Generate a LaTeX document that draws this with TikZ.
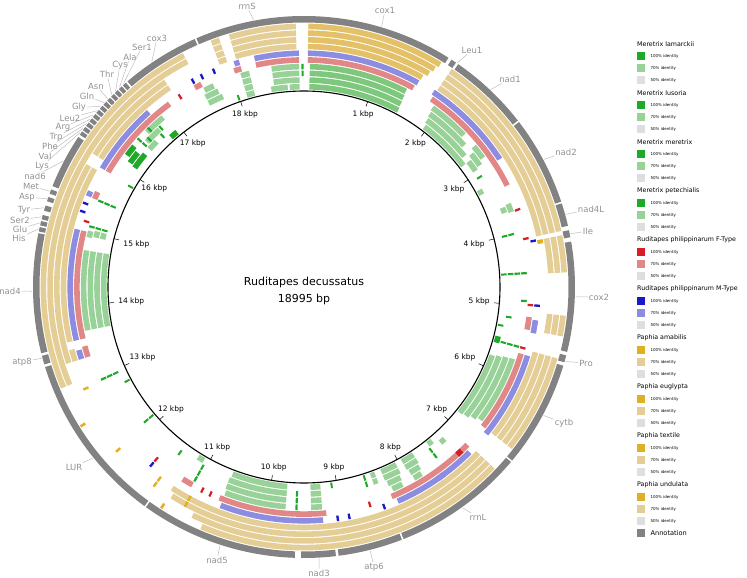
\documentclass[tikz,border=0pt]{standalone}
\usepackage{fontspec}
\setmainfont{DejaVu Sans}
\usetikzlibrary{positioning}

\definecolor{gD}{RGB}{30,170,40}
\definecolor{gM}{RGB}{125,200,125}
\definecolor{gL}{RGB}{152,210,152}
\definecolor{rD}{RGB}{215,30,35}
\definecolor{rL}{RGB}{226,135,135}
\definecolor{bD}{RGB}{25,25,200}
\definecolor{bL}{RGB}{140,140,225}
\definecolor{yD}{RGB}{225,175,35}
\definecolor{yM}{RGB}{228,192,105}
\definecolor{yL}{RGB}{228,206,150}
\definecolor{annot}{RGB}{130,130,130}
\definecolor{labgrey}{RGB}{145,145,145}
\definecolor{legfifty}{RGB}{222,222,222}

% one block of a ring: ring index, from, to (kbp), colour
\newcommand{\ringseg}[4]{%
  \pgfmathsetmacro{\rin}{197.5+6.7*(#1)}%
  \pgfmathsetmacro{\rout}{\rin+5.6}%
  \pgfmathsetmacro{\angA}{90-18.9523*(#2)}%
  \pgfmathsetmacro{\angB}{90-18.9523*(#3)}%
  \fill[#4] (\angA:\rin pt) arc[start angle=\angA, end angle=\angB, radius=\rin pt]
    -- (\angB:\rout pt) arc[start angle=\angB, end angle=\angA, radius=\rout pt] -- cycle;}
% short hit: ring index, position (kbp), colour
\newcommand{\hit}[3]{\ringseg{#1}{#2-0.015}{#2+0.015}{#3}}
% annotation block on the outer ring
\newcommand{\genebox}[2]{%
  \pgfmathsetmacro{\angA}{90-18.9523*(#1)}%
  \pgfmathsetmacro{\angB}{90-18.9523*(#2)}%
  \fill[annot] (\angA:264.5pt) arc[start angle=\angA, end angle=\angB, radius=264.5pt]
    -- (\angB:271pt) arc[start angle=\angB, end angle=\angA, radius=271pt] -- cycle;}

\begin{document}
\begin{tikzpicture}[x=1pt, y=1pt, line cap=round, line join=round,
    genelab/.style={font=\fontsize{8.5}{9}\selectfont, text=labgrey, inner sep=1pt},
    leader/.style={draw=labgrey!60, line width=0.5pt},
    kblab/.style={font=\fontsize{7.5}{8}\selectfont, inner sep=0.5pt},
    legtitle/.style={font=\fontsize{6.3}{7}\selectfont, anchor=west, inner sep=0pt},
    legtext/.style={font=\fontsize{4}{5}\selectfont, anchor=west, inner sep=0pt},
    legbox/.style={minimum size=8pt, inner sep=0pt, anchor=west}]
  \useasboundingbox (-304,-291) rectangle (443,287);

  % Meretrix (rings 0-3)
  \foreach \k/\a/\b/\c in {0/0.08/1.48/gM, 1/0.08/1.47/gM, 2/0.08/1.46/gM, 3/0.08/1.45/gM,
      0/1.95/2.78/gL, 1/1.92/2.68/gL, 2/1.90/2.56/gL, 3/1.88/2.45/gL,
      1/2.78/2.95/gL, 2/2.72/2.92/gL, 3/2.66/2.86/gL, 0/3.22/3.30/gL,
      2/3.60/3.68/gL, 3/3.58/3.70/gL, 0/5.50/5.60/gD,
      0/5.80/6.80/gL, 1/5.78/6.78/gL, 2/5.76/6.74/gL, 3/5.75/6.70/gL,
      1/7.24/7.32/gL, 0/7.40/7.48/gL,
      0/7.75/7.95/gL, 1/7.75/7.95/gL, 2/7.77/7.93/gL, 3/7.80/7.92/gL,
      0/8.05/8.30/gL, 1/8.05/8.30/gL, 2/8.08/8.28/gL, 3/8.10/8.25/gL,
      0/8.40/8.47/gL, 1/8.40/8.47/gL,
      0/9.25/9.40/gL, 1/9.25/9.40/gL, 2/9.25/9.40/gL, 3/9.25/9.40/gL,
      0/9.75/10.60/gL, 1/9.75/10.62/gL, 2/9.75/10.62/gL, 3/9.75/10.60/gL,
      0/11.08/11.18/gL,
      0/13.65/14.75/gL, 1/13.65/14.75/gL, 2/13.65/14.75/gL, 3/13.65/14.75/gL,
      1/14.95/15.04/gL, 2/14.95/15.04/gL, 3/14.93/15.02/gL,
      1/16.10/16.35/gD, 2/16.12/16.30/gD, 3/16.18/16.34/gD,
      1/16.45/16.60/gL, 2/16.50/16.75/gL, 3/16.60/16.90/gL, 0/16.80/16.92/gD,
      1/17.55/17.78/gL, 2/17.55/17.75/gL, 3/17.58/17.72/gL,
      0/18.12/18.24/gL, 1/18.12/18.24/gL, 2/18.12/18.24/gL, 3/18.12/18.24/gL,
      0/18.50/18.75/gL, 0/18.78/18.93/gL, 1/18.55/18.93/gL, 2/18.55/18.93/gL, 3/18.55/18.93/gL}
    {\ringseg{\k}{\a}{\b}{\c}}
  \foreach \k/\p in {0/4.56, 1/4.56, 2/4.56, 3/4.56, 1/4.0, 2/4.0, 1/3.06, 3/4.94, 1/5.19,
      0/5.33, 1/5.57, 2/5.57, 3/5.57, 1/7.5, 2/7.5, 0/8.57, 1/8.57, 0/9.08,
      1/9.6, 2/9.6, 3/9.6, 1/11.05, 2/11.05, 3/11.05, 1/11.44, 0/12.12, 1/12.12,
      0/12.77, 1/12.95, 2/12.95, 3/12.95, 1/15.08, 2/15.08, 3/15.08,
      1/15.45, 2/15.45, 3/15.45, 0/15.83, 2/16.45, 3/16.45, 2/16.55, 3/16.65,
      1/16.72, 2/16.78, 0/17.99, 2/18.975, 3/18.975}
    {\hit{\k}{\p}{gD}}

  % Ruditapes philippinarum F (ring 4) and M (ring 5)
  \foreach \k/\a/\b/\c in {4/0.05/1.52/rL, 5/0.05/1.54/bL,
      4/1.80/3.35/rL, 5/1.77/3.00/bL,
      4/5.15/5.32/rL, 5/5.18/5.35/bL,
      4/5.65/6.75/rL, 5/5.65/6.80/bL,
      4/7.07/8.30/rL, 5/7.12/8.25/bL, 5/7.55/7.65/bL, 4/7.18/7.26/rD,
      4/9.20/10.65/rL, 5/9.25/10.60/bL, 4/11.05/11.20/rL,
      4/13.30/13.45/rL, 5/13.30/13.42/bL,
      4/13.55/15.00/rL, 5/13.55/15.00/bL,
      4/15.45/15.55/rL, 5/15.45/15.52/bL,
      4/15.85/17.08/rL, 5/15.85/16.80/bL, 4/17.48/17.58/rL,
      4/18.05/18.15/rL, 5/18.08/18.15/bL,
      4/18.35/18.93/rL, 5/18.35/18.93/bL}
    {\ringseg{\k}{\a}{\b}{\c}}
  \foreach \k/\p/\c in {4/3.70/rD, 4/4.10/rD, 5/4.15/bD, 4/4.99/rD, 5/4.99/bD, 4/5.57/rD,
      5/8.44/bD, 4/8.61/rD, 5/8.91/bD, 5/9.06/bD, 4/10.78/rD, 4/10.9/rD,
      4/11.64/rD, 5/11.64/bD, 4/15.13/rD, 5/15.24/bD, 5/15.35/bD, 4/17.25/rD,
      5/17.5/bD, 5/17.63/bD, 5/17.8/bD}
    {\hit{\k}{\p}{\c}}

  % Paphia (rings 6-9)
  \foreach \k/\a/\b/\c in {6/0.05/1.55/yM, 7/0.05/1.60/yM, 8/0.05/1.63/yM, 9/0.05/1.66/yM,
      6/1.80/4.10/yL, 7/1.80/4.10/yL, 8/1.80/4.10/yL, 9/1.80/4.10/yL,
      6/4.15/4.20/yD, 7/4.15/4.58/yL, 8/4.15/4.58/yL, 9/4.15/4.58/yL,
      7/5.08/5.32/yL, 8/5.08/5.32/yL, 9/5.08/5.32/yL,
      6/5.58/6.75/yL, 7/5.58/6.75/yL, 8/5.58/6.75/yL, 9/5.58/6.75/yL,
      6/7.05/11.25/yL, 7/7.05/11.20/yL, 8/7.05/10.87/yL, 9/7.05/10.72/yL,
      6/13.30/13.45/yL, 6/13.55/15.80/yL, 7/13.30/15.80/yL, 8/13.05/17.55/yL, 9/13.05/17.55/yL,
      6/15.95/17.20/yL, 7/15.95/17.20/yL,
      6/17.90/18.00/yL, 7/17.90/18.00/yL, 8/17.90/18.00/yL, 9/17.90/18.00/yL,
      6/18.12/18.90/yL, 7/18.12/18.90/yL, 8/18.12/18.90/yL, 9/18.12/18.90/yL}
    {\ringseg{\k}{\a}{\b}{\c}}
  \foreach \k/\p in {6/11.0, 7/11.0, 9/11.23, 6/11.45, 7/11.45, 7/12.07, 9/12.56, 6/12.93}
    {\hit{\k}{\p}{yD}}

  % annotation ring
  \foreach \a/\b in {0.0/1.70, 1.74/1.80, 1.83/2.75, 2.77/3.78, 3.80/4.06, 4.11/4.19,
      4.24/5.48, 5.52/5.60, 5.64/6.85, 6.87/8.36, 8.38/9.11, 9.14/9.53, 9.60/11.38,
      11.40/13.34, 13.37/13.47, 13.50/14.85, 14.87/14.92, 14.94/14.99, 15.01/15.06,
      15.11/15.17, 15.22/15.27, 15.31/15.36, 15.40/16.02, 16.85/17.74, 17.76/18.995}
    {\genebox{\a}{\b}}
  \foreach \i in {0,...,12}
    {\genebox{16.05+0.061*\i}{16.095+0.061*\i}}

  % backbone and scale
  \draw[line width=1.1pt] (0,0) circle[radius=196pt];
  \foreach \k in {1,...,18} {
    \pgfmathsetmacro{\ang}{90-18.9523*\k}
    \draw[line width=0.5pt] (\ang:196pt) -- (\ang:191pt);
    \node[kblab, anchor=\ang] (kb\k) at (\ang:187pt) {\k\ kbp};
  }
  \node[align=center, font=\fontsize{11}{17}\selectfont] (title) at (0,-4)
    {Ruditapes decussatus\\18995 bp};

  % gene names
  \foreach \nm/\ang/\lx/\ly in {rrnS/100.7/-57/281, cox1/73.4/81/277, Leu1/55.6/168/237,
      nad1/46.6/206/208, nad2/28/262/135, nad4L/15.5/287/78, Ile/11.3/284/56,
      cox2/-2.1/295/-10, Pro/-15.9/282/-76, cytb/-28.2/260/-136, rrnL/-54.3/174/-230,
      atp6/-75.9/70/-280, nad3/-86.8/15/-286, nad5/-108/-87/-273, LUR/-141/-230/-180,
      atp8/195.2/-282/-75, nad4/180.9/-294/-4} {
    \coordinate (r\nm) at (\ang:272pt);
    \node[genelab] (\nm) at (\lx,\ly) {\nm};
    \draw[leader] (r\nm) -- (\nm);
  }
  \foreach \nm/\kb/\lx/\ly in {His/14.895/-285/49, Glu/14.965/-284/58, Ser2/15.035/-284/67,
      Tyr/15.14/-280/77, Asp/15.245/-277/90, Met/15.335/-273/101, nad6/15.7/-269/111,
      Lys/16.072/-262/121, Val/16.133/-259/131, Phe/16.194/-254/141, Trp/16.255/-248/150,
      Arg/16.316/-241/160, Leu2/16.377/-234/169, Gly/16.438/-225/180, Gln/16.499/-217/191,
      Asn/16.56/-208/201, Thr/16.621/-197/213, Cys/16.682/-184/222, Ala/16.743/-174/230,
      Ser1/16.804/-162/240, cox3/17.2/-147/249} {
    \coordinate (r\nm) at ({90-18.9523*\kb}:272pt);
    \node[genelab] (\nm) at (\lx,\ly) {\nm};
    \draw[leader] (r\nm) -- (\nm);
  }

  % legend
  \begin{scope}[shift={(333,243)}]
    \foreach \nm/\dk/\lt [count=\i from 0] in {Meretrix lamarckii/gD/gL, Meretrix lusoria/gD/gL,
        Meretrix meretrix/gD/gL, Meretrix petechialis/gD/gL,
        Ruditapes philippinarum F-Type/rD/rL, Ruditapes philippinarum M-Type/bD/bL,
        Paphia amabilis/yD/yL, Paphia euglypta/yD/yL, Paphia textile/yD/yL,
        Paphia undulata/yD/yL} {
      \node[legtitle] (leg\i) at (0,-49*\i) {\nm};
      \node[legbox, fill=\dk] (hi\i) at (0,-49*\i-12) {};
      \node[legbox, fill=\lt] (mid\i) at (0,-49*\i-24) {};
      \node[legbox, fill=legfifty] (lo\i) at (0,-49*\i-36) {};
      \node[legtext, right=5pt of hi\i] {100\% identity};
      \node[legtext, right=5pt of mid\i] {70\% identity};
      \node[legtext, right=5pt of lo\i] {50\% identity};
    }
    \node[legbox, fill=annot] (annbox) at (0,-489) {};
    \node[legtitle, font=\fontsize{6.6}{7}\selectfont, right=5pt of annbox] (annlab) {Annotation};
  \end{scope}
\end{tikzpicture}
\end{document}
